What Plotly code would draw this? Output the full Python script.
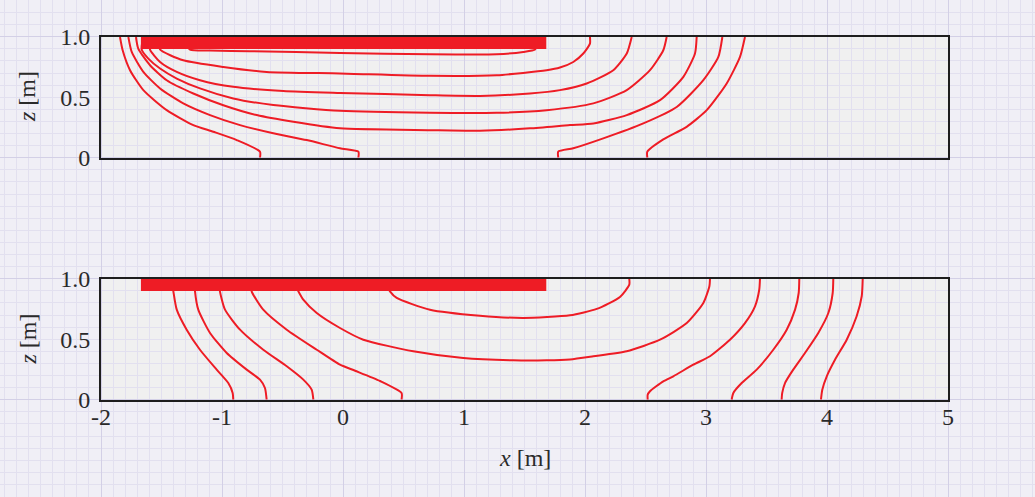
import plotly.graph_objects as go

W, H = 1035, 497

RED = "#ee1c25"
FRAME = "#1e1e1e"
PAPER_BG = "#f0eff6"
PANEL_BG = "#f0f0f0"
GRID_MAJOR = "#d3d0e6"
GRID_MINOR = "#e2e0ef"
TEXT = "#2a2a2a"
FONT = "Liberation Serif"

# axis ticks
X_TICKS = [-2, -1, 0, 1, 2, 3, 4, 5]
X_TICK_TEXT = ["-2", "-1", "0", "1", "2", "3", "4", "5"]
Z_TICKS = [0, 0.5, 1.0]
Z_TICK_TEXT = ["0", "0.5", "1.0"]

# plate (footing) extent, identical in both panels
PLATE_X = [-1.67, 1.68]
PLATE_Z = [0.9, 1.0]

# contour lines, upper panel: (x [m], z [m])
top_lines = [
    ([-1.843, -1.821, -1.760, -1.650, -1.457, -1.237, -1.072, -0.878, -0.686, -0.686],
     [1.0, 0.89, 0.725, 0.56, 0.394, 0.27, 0.215, 0.146, 0.05, 0.0]),
    ([2.515, 2.515, 2.647, 2.840, 3.006, 3.171, 3.281, 3.322],
     [0.0, 0.05, 0.152, 0.256, 0.394, 0.615, 0.835, 1.0]),
    ([-1.774, -1.746, -1.650, -1.512, -1.320, -1.099, -0.851, -0.576, -0.300, -0.025, 0.127, 0.127],
     [1.0, 0.876, 0.711, 0.574, 0.450, 0.353, 0.270, 0.202, 0.146, 0.078, 0.050, 0.0]),
    ([1.779, 1.779, 1.903, 2.151, 2.482, 2.758, 2.978, 3.102, 3.135],
     [0.0, 0.05, 0.078, 0.160, 0.284, 0.420, 0.642, 0.835, 1.0]),
    ([-1.711, -1.692, -1.595, -1.457, -1.237, -0.989, -0.713, -0.410, -0.025, 0.719, 1.132,
      1.545, 1.876, 2.069, 2.345, 2.620, 2.813, 2.909, 2.923],
     [1.0, 0.904, 0.766, 0.642, 0.532, 0.435, 0.353, 0.297, 0.243, 0.228, 0.223,
      0.243, 0.270, 0.284, 0.353, 0.477, 0.670, 0.863, 1.0]),
    ([-1.66, -1.664, -1.609, -1.512, -1.374, -1.182, -0.907, -0.576, -0.025, 0.719, 1.270,
      1.683, 2.069, 2.345, 2.537, 2.647, 2.675],
     [0.95, 0.896, 0.821, 0.739, 0.656, 0.574, 0.491, 0.436, 0.388, 0.372, 0.372,
      0.394, 0.450, 0.560, 0.725, 0.890, 1.0]),
    ([-1.595, -1.595, -1.512, -1.374, -1.182, -0.907, -0.493, -0.025, 0.719, 1.132, 1.545,
      1.793, 2.014, 2.234, 2.345, 2.386],
     [0.95, 0.896, 0.793, 0.711, 0.642, 0.587, 0.553, 0.537, 0.518, 0.512, 0.532,
      0.560, 0.615, 0.725, 0.863, 1.0]),
    ([-1.512, -1.512, -1.320, -0.989, -0.631, -0.025, 0.719, 1.270, 1.683, 1.793, 1.903,
      1.986, 2.041, 2.041],
     [0.95, 0.896, 0.807, 0.752, 0.711, 0.698, 0.678, 0.683, 0.725, 0.747, 0.793,
      0.863, 0.945, 1.0]),
    ([-1.30, -1.264, -1.10, -0.769, -0.025, 0.719, 1.270, 1.490, 1.587, 1.60],
     [0.95, 0.896, 0.888, 0.882, 0.868, 0.857, 0.857, 0.876, 0.896, 0.95]),
]

# contour lines, lower panel: (x [m], z [m])
bottom_lines = [
    ([-1.41, -1.402, -1.374, -1.292, -1.182, -1.044, -0.948, -0.912, -0.907],
     [0.95, 0.898, 0.746, 0.580, 0.414, 0.249, 0.138, 0.056, 0.0]),
    ([-1.225, -1.223, -1.196, -1.099, -0.961, -0.796, -0.686, -0.645, -0.631],
     [0.95, 0.898, 0.746, 0.553, 0.387, 0.249, 0.166, 0.097, 0.0]),
    ([-1.02, -1.017, -0.975, -0.851, -0.659, -0.465, -0.328, -0.259, -0.245],
     [0.95, 0.898, 0.746, 0.580, 0.414, 0.277, 0.166, 0.083, 0.0]),
    ([-0.76, -0.755, -0.659, -0.465, -0.217, -0.025, 0.10, 0.306, 0.484, 0.484],
     [0.95, 0.898, 0.746, 0.580, 0.414, 0.29, 0.24, 0.155, 0.056, 0.0]),
    ([-0.40, -0.369, -0.328, -0.217, -0.025, 0.168, 0.581, 0.994, 1.407, 1.683, 1.876,
      2.069, 2.345, 2.620, 2.841, 2.978, 3.028, 3.033],
     [0.95, 0.898, 0.829, 0.718, 0.594, 0.497, 0.401, 0.345, 0.326, 0.326, 0.334,
      0.360, 0.401, 0.497, 0.635, 0.801, 0.940, 1.0]),
    ([0.36, 0.388, 0.444, 0.719, 1.132, 1.490, 1.876, 2.097, 2.289, 2.366, 2.366],
     [0.95, 0.898, 0.843, 0.746, 0.696, 0.677, 0.699, 0.752, 0.851, 0.953, 1.0]),
    ([2.518, 2.518, 2.537, 2.647, 2.730, 2.895, 3.033, 3.198, 3.322, 3.405, 3.440, 3.446],
     [0.0, 0.041, 0.070, 0.152, 0.194, 0.290, 0.360, 0.497, 0.635, 0.774, 0.911, 1.0]),
    ([3.771, 3.766, 3.736, 3.667, 3.556, 3.419, 3.295, 3.226, 3.212],
     [1.0, 0.884, 0.746, 0.580, 0.414, 0.249, 0.138, 0.056, 0.0]),
    ([4.052, 4.047, 4.011, 3.928, 3.818, 3.721, 3.653, 3.630, 3.625],
     [1.0, 0.884, 0.718, 0.553, 0.387, 0.249, 0.138, 0.056, 0.0]),
    ([4.295, 4.287, 4.245, 4.163, 4.066, 3.998, 3.961, 3.950],
     [1.0, 0.857, 0.691, 0.497, 0.331, 0.194, 0.083, 0.0]),
]

# panel placement on the page (paper fractions)
X_DOM = [101 / W, 948 / W]
TOP_DOM = [1 - 157.7 / H, 1 - 37 / H]
BOT_DOM = [1 - 399.7 / H, 1 - 279 / H]

# full-page squared-paper grid: 121 px per metre, aligned with the panels
PX_PER_M = 121.0
BG_X_RANGE = [-2 - 101 / PX_PER_M, -2 + (W - 101) / PX_PER_M]
BG_Y_RANGE = [-(H - 157.7) / PX_PER_M, 157.7 / PX_PER_M]

fig = go.Figure()

# invisible trace so the background subplot exists and is drawn first
fig.add_trace(go.Scatter(x=[BG_X_RANGE[0]], y=[BG_Y_RANGE[0]], mode="markers",
                         marker=dict(opacity=0), xaxis="x", yaxis="y",
                         hoverinfo="skip", showlegend=False))

line_style = dict(color=RED, width=2.0, shape="spline", smoothing=0.6)
for xs, zs in top_lines:
    fig.add_trace(go.Scatter(x=xs, y=zs, mode="lines", xaxis="x2", yaxis="y2",
                             line=line_style, hoverinfo="skip", showlegend=False))
for xs, zs in bottom_lines:
    fig.add_trace(go.Scatter(x=xs, y=zs, mode="lines", xaxis="x3", yaxis="y3",
                             line=line_style, hoverinfo="skip", showlegend=False))

shapes = []
for dom in (TOP_DOM, BOT_DOM):
    shapes.append(dict(type="rect", xref="paper", yref="paper", layer="below",
                       x0=X_DOM[0], x1=X_DOM[1], y0=dom[0], y1=dom[1],
                       fillcolor=PANEL_BG, line=dict(width=0)))
for xa, ya in (("x2", "y2"), ("x3", "y3")):
    shapes.append(dict(type="rect", xref=xa, yref=ya, layer="above",
                       x0=PLATE_X[0], x1=PLATE_X[1], y0=PLATE_Z[0], y1=PLATE_Z[1],
                       fillcolor=RED, line=dict(width=0)))

tick_font = dict(family=FONT, size=24, color=TEXT)
title_font = dict(family=FONT, size=24, color=TEXT)

frame = dict(showline=True, mirror=True, linecolor=FRAME, linewidth=2,
             showgrid=False, zeroline=False, fixedrange=True, automargin=False)

bg_axis = dict(domain=[0, 1], showgrid=True, gridcolor=GRID_MAJOR, gridwidth=1.2,
               tick0=0, dtick=1, zeroline=False, showticklabels=False, ticks="",
               showline=False, fixedrange=True, automargin=False,
               minor=dict(tick0=0, dtick=0.1, showgrid=True, gridcolor=GRID_MINOR,
                          gridwidth=1, ticks=""))

fig.update_layout(
    template="none",
    width=W, height=H,
    autosize=False,
    margin=dict(l=0, r=0, t=0, b=0, pad=0),
    paper_bgcolor=PAPER_BG,
    plot_bgcolor="rgba(0,0,0,0)",
    font=dict(family=FONT, color=TEXT),
    showlegend=False,
    xaxis=dict(bg_axis, range=BG_X_RANGE, anchor="y"),
    yaxis=dict(bg_axis, range=BG_Y_RANGE, anchor="x"),
    xaxis2=dict(frame, domain=X_DOM, anchor="y2", range=[-2, 5],
                showticklabels=False, ticks=""),
    yaxis2=dict(frame, domain=TOP_DOM, anchor="x2", range=[0, 1],
                tickvals=Z_TICKS, ticktext=Z_TICK_TEXT, tickfont=tick_font,
                ticks="", ticklabelstandoff=4),
    xaxis3=dict(frame, domain=X_DOM, anchor="y3", range=[-2, 5],
                tickvals=X_TICKS, ticktext=X_TICK_TEXT, tickfont=tick_font,
                ticks="", ticklabelstandoff=-6),
    yaxis3=dict(frame, domain=BOT_DOM, anchor="x3", range=[0, 1],
                tickvals=Z_TICKS, ticktext=Z_TICK_TEXT, tickfont=tick_font,
                ticks="", ticklabelstandoff=4),
    shapes=shapes,
    annotations=[
        dict(text="<i>z</i> [m]", xref="paper", yref="paper", x=27 / W,
             y=1 - 97 / H, xanchor="center", yanchor="middle", textangle=-90,
             showarrow=False, font=title_font),
        dict(text="<i>z</i> [m]", xref="paper", yref="paper", x=27 / W,
             y=1 - 339.5 / H, xanchor="center", yanchor="middle", textangle=-90,
             showarrow=False, font=title_font),
        dict(text="<i>x</i> [m]", xref="paper", yref="paper", x=524.5 / W,
             y=1 - 458 / H, xanchor="center", yanchor="middle",
             showarrow=False, font=title_font),
    ],
)

fig.write_html("out.html", config=dict(responsive=False, displayModeBar=False))
